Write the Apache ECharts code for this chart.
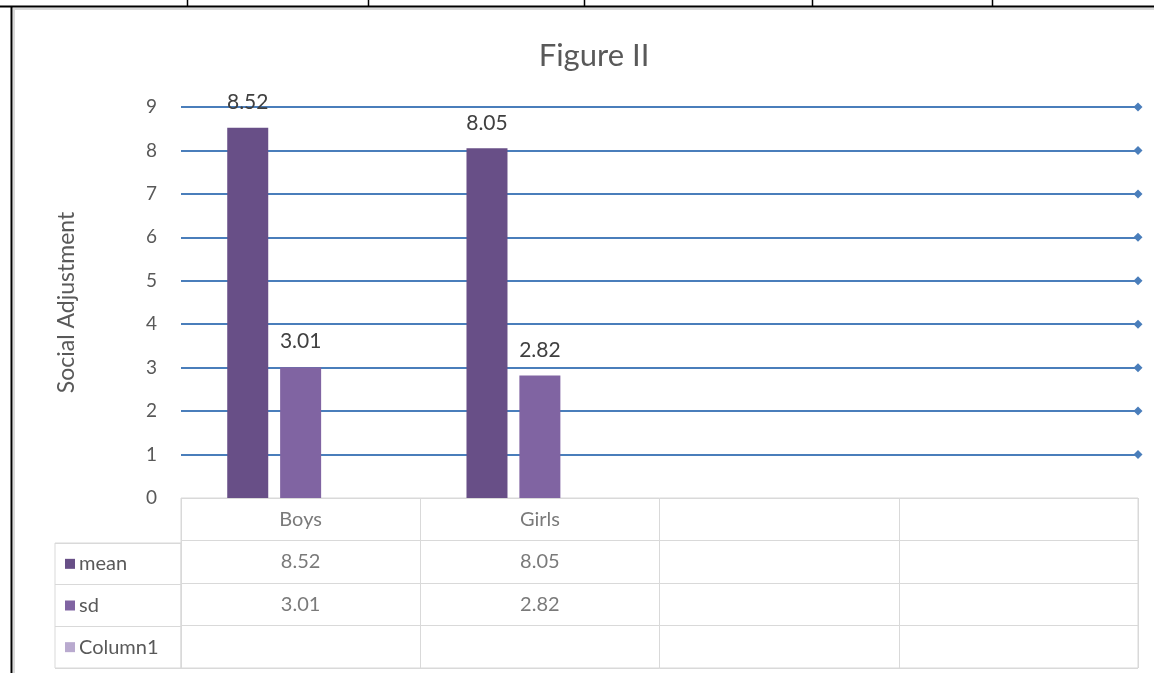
<!DOCTYPE html>
<html>
<head>
<meta charset="utf-8">
<script src="https://cdn.jsdelivr.net/npm/echarts@6/dist/echarts.min.js"></script>
<style>
html,body{margin:0;padding:0;background:#fff;}
#chart{width:1154px;height:673px;}
</style>
</head>
<body>
<div id="chart"></div>
<script>
// ---- data ----
var categories = ['Boys', 'Girls', ' ', '  '];
var meanValues = [8.52, 8.05, null, null];
var sdValues = [3.01, 2.82, null, null];
var column1Values = [null, null, null, null];
var seriesNames = ['mean', 'sd', 'Column1'];
var yTicks = [1, 2, 3, 4, 5, 6, 7, 8, 9];

var colors = ['#684F87', '#8064A2', '#B9AACF'];
var FONT = 'Lato, "Open Sans", sans-serif';
var TXT = '#595959';
var GRID_GRAY = '#d9d9d9';
var BLUE = '#4A7EBB';

var chart = echarts.init(document.getElementById('chart'));

function fmt(v) { return v == null ? '' : v.toFixed(2); }

var tableRows = ['hdr'].concat(seriesNames);
var tableData = [];
categories.forEach(function (c) { tableData.push([c, 'hdr', c.trim()]); });
[meanValues, sdValues, column1Values].forEach(function (arr, si) {
  arr.forEach(function (v, i) { tableData.push([categories[i], seriesNames[si], fmt(v)]); });
});

var rich = { t: { color: TXT, fontSize: 20, fontFamily: FONT, padding: [0, 0, 0, 4] } };
seriesNames.forEach(function (n, i) {
  rich['sq' + i] = { backgroundColor: colors[i], width: 10, height: 10 };
});

var barLabel = {
  show: true, position: 'top', distance: 15, color: '#404040',
  fontSize: 21, fontFamily: FONT, formatter: function (p) { return fmt(p.value); }
};

var option = {
  animation: false,
  backgroundColor: '#fff',
  textStyle: { fontFamily: FONT },
  title: {
    text: 'Figure II', left: 589, top: 35, textAlign: 'center',
    textStyle: { color: TXT, fontSize: 31, fontWeight: 'normal', fontFamily: FONT }
  },
  grid: [
    { left: 181, right: 16, top: 107, bottom: 175 },
    { left: 181, right: 16, top: 498, bottom: 5, show: true, borderColor: GRID_GRAY, borderWidth: 1 },
    { left: 55, width: 126, top: 543, bottom: 5, show: true, borderColor: GRID_GRAY, borderWidth: 1 }
  ],
  xAxis: [
    { type: 'category', gridIndex: 0, data: categories, axisLine: { show: false }, axisTick: { show: false }, axisLabel: { show: false } },
    { type: 'category', gridIndex: 1, data: categories, axisLine: { show: false }, axisTick: { show: false }, axisLabel: { show: false },
      splitLine: { show: true, interval: 0, lineStyle: { color: GRID_GRAY, width: 1 } } },
    { type: 'value', gridIndex: 2, show: false }
  ],
  yAxis: [
    { type: 'value', gridIndex: 0, min: 0, max: 9, interval: 1,
      name: 'Social Adjustment', nameLocation: 'middle', nameGap: 103,
      nameTextStyle: { color: TXT, fontSize: 23, fontFamily: FONT },
      axisLine: { show: false }, axisTick: { show: false },
      axisLabel: { color: TXT, fontSize: 19, fontFamily: FONT, margin: 24 },
      splitLine: { show: false } },
    { type: 'category', gridIndex: 1, data: tableRows, inverse: true,
      axisLine: { show: false }, axisTick: { show: false }, axisLabel: { show: false },
      splitLine: { show: true, interval: 0, lineStyle: { color: GRID_GRAY, width: 1 } } },
    { type: 'category', gridIndex: 2, data: seriesNames, inverse: true,
      axisLine: { show: false }, axisTick: { show: false },
      axisLabel: { inside: true, margin: 10, align: 'left',
        formatter: function (v) { var i = seriesNames.indexOf(v); return '{sq' + i + '|}{t|' + v + '}'; },
        rich: rich },
      splitLine: { show: true, interval: 0, lineStyle: { color: GRID_GRAY, width: 1 } } }
  ],
  series: [
    { name: 'mean', type: 'bar', xAxisIndex: 0, yAxisIndex: 0, data: meanValues, barWidth: 41, barGap: '29%',
      itemStyle: { color: colors[0] }, label: barLabel, z: 3,
      markLine: {
        silent: true, z: 1, symbol: ['none', 'diamond'], symbolSize: [9, 9], label: { show: false },
        lineStyle: { color: BLUE, width: 2, type: 'solid', opacity: 1 },
        emphasis: { disabled: true },
        data: yTicks.map(function (t) { return { yAxis: t }; })
      } },
    { name: 'sd', type: 'bar', xAxisIndex: 0, yAxisIndex: 0, data: sdValues, barWidth: 41, barGap: '29%',
      itemStyle: { color: colors[1] }, label: barLabel, z: 3 },
    { name: 'Column1', type: 'bar', xAxisIndex: 0, yAxisIndex: 0, data: column1Values, barWidth: 41, barGap: '29%',
      itemStyle: { color: colors[2] }, label: barLabel, z: 3 },
    { type: 'scatter', xAxisIndex: 1, yAxisIndex: 1, data: tableData, symbolSize: 0, silent: true,
      label: { show: true, position: 'inside', color: TXT, fontSize: 20, fontFamily: FONT,
        formatter: function (p) { return p.value[2]; } } }
  ],
  graphic: [
    { type: 'rect', shape: { x: 14, y: 9, width: 1150, height: 680 }, style: { fill: 'none', stroke: GRID_GRAY, lineWidth: 2 }, silent: true, z: -1 },
    { type: 'line', shape: { x1: 0, y1: 6.5, x2: 1154, y2: 6.5 }, style: { stroke: '#000', lineWidth: 2 }, silent: true },
    { type: 'line', shape: { x1: 11.5, y1: 6, x2: 11.5, y2: 673 }, style: { stroke: '#000', lineWidth: 2 }, silent: true },
    { type: 'line', shape: { x1: 187.5, y1: 0, x2: 187.5, y2: 7 }, style: { stroke: '#000', lineWidth: 1.5 }, silent: true },
    { type: 'line', shape: { x1: 368.5, y1: 0, x2: 368.5, y2: 7 }, style: { stroke: '#000', lineWidth: 1.5 }, silent: true },
    { type: 'line', shape: { x1: 584.5, y1: 0, x2: 584.5, y2: 7 }, style: { stroke: '#000', lineWidth: 1.5 }, silent: true },
    { type: 'line', shape: { x1: 812.5, y1: 0, x2: 812.5, y2: 7 }, style: { stroke: '#000', lineWidth: 1.5 }, silent: true },
    { type: 'line', shape: { x1: 992.5, y1: 0, x2: 992.5, y2: 7 }, style: { stroke: '#000', lineWidth: 1.5 }, silent: true }
  ]
};
chart.setOption(option);
</script>
</body>
</html>
